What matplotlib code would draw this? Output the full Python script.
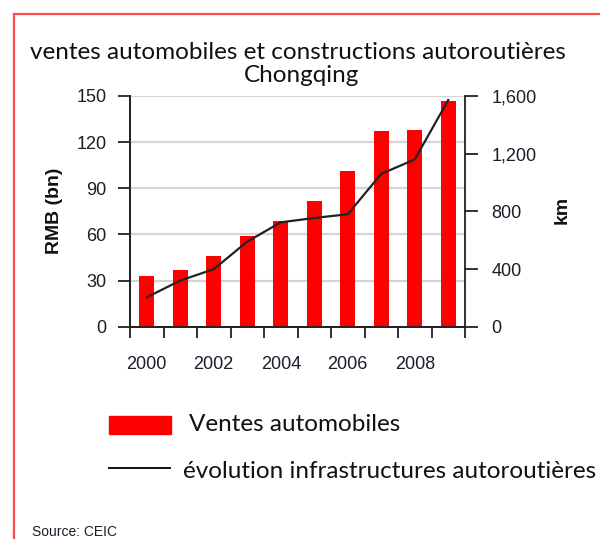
import matplotlib
matplotlib.use("Agg")
import matplotlib.pyplot as plt
import numpy as np
from matplotlib.patches import Rectangle
from matplotlib.lines import Line2D
from matplotlib.ticker import FuncFormatter

YEARS = [2000, 2001, 2002, 2003, 2004, 2005, 2006, 2007, 2008, 2009]
SALES_RMB_BN = [33, 37, 46, 59, 69, 82, 101, 127, 128, 147]
MOTORWAY_KM = [204, 320, 399, 590, 724, 754, 780, 1060, 1160, 1572]
YEAR_LABELS = ["2000", "2002", "2004", "2006", "2008"]

W, H = 600, 539
RED = "#ff0000"
TXT = "#1c1c2a"
TITLE_FONT = ["Lato", "DejaVu Sans"]
AX_FONT = ["Liberation Sans", "DejaVu Sans"]
BIG = 17.5


def px(x, y):
    return x / W, 1 - y / H


fig = plt.figure(figsize=(W / 100, H / 100), dpi=100)
x0, y1 = px(130, 96)
x1, y0 = px(465, 326.7)
ax = fig.add_axes([x0, y0, x1 - x0, y1 - y0])
ax2 = ax.twinx()

xs = np.arange(len(YEARS))
ax.bar(xs, SALES_RMB_BN, width=0.45, color=RED, zorder=3)
ax.set_ylim(0, 150)
ax.set_yticks([0, 30, 60, 90, 120, 150])
ax.set_xlim(-0.5, len(YEARS) - 0.5)
ax.set_xticks(np.arange(-0.5, len(YEARS), 1.0))
ax.set_xticklabels([])
ax.set_xticks([xs[YEARS.index(int(y))] for y in YEAR_LABELS], minor=True)
ax.set_xticklabels(YEAR_LABELS, minor=True)
ax.tick_params(axis="x", which="minor", length=0, pad=21)
ax.tick_params(axis="x", which="major", length=8, width=1.3, color="#222222")
ax.tick_params(axis="y", length=9, width=1.3, color="#222222", pad=8)
ax.yaxis.grid(True, color="#d4d4d4", lw=1.6, zorder=0)
ax.set_axisbelow(True)

ax2.plot(xs, MOTORWAY_KM, color="#222222", lw=1.6, zorder=4)
ax2.set_ylim(0, 1600)
ax2.set_yticks([0, 400, 800, 1200, 1600])
ax2.yaxis.set_major_formatter(FuncFormatter(lambda v, p: f"{int(v):,}"))
ax2.tick_params(axis="y", length=9, width=1.3, color="#222222", pad=10)

for a in (ax, ax2):
    a.spines["top"].set_visible(False)
    for s in ("left", "right", "bottom"):
        a.spines[s].set_color("#222222")
        a.spines[s].set_linewidth(1.3)
    for lab in a.get_xticklabels(which="both") + a.get_yticklabels():
        lab.set_fontfamily(AX_FONT)
        lab.set_fontsize(13)
        lab.set_color(TXT)
ax.spines["right"].set_visible(False)

# axis titles
fig.text(*px(55, 211), "RMB (bn)", rotation=90, ha="center", va="center",
         fontsize=14, fontweight="bold", family=AX_FONT, color="#111111")
fig.text(*px(562, 210), "km", rotation=90, ha="center", va="center",
         fontsize=14, fontweight="bold", family=AX_FONT, color="#111111")

# title
fig.text(*px(298, 59), "ventes automobiles et constructions autoroutières",
         ha="center", va="baseline", fontsize=BIG, family=TITLE_FONT, color="#111111")
fig.text(*px(302, 82), "Chongqing", ha="center", va="baseline",
         fontsize=BIG, family=TITLE_FONT, color="#111111")

# legend drawn by hand below the plot
lx0, ly0 = px(109, 434)
lx1, ly1 = px(171, 416)
fig.patches.append(Rectangle((lx0, ly0), lx1 - lx0, ly1 - ly0,
                             transform=fig.transFigure, color=RED))
fig.text(*px(189, 431), "Ventes automobiles", ha="left", va="baseline",
         fontsize=BIG, family=TITLE_FONT, color="#111111")
lxa, lya = px(109, 468)
lxb, _ = px(170, 468)
fig.lines.append(Line2D([lxa, lxb], [lya, lya], transform=fig.transFigure,
                        color="#111111", lw=1.4))
fig.text(*px(183, 478), "évolution infrastructures autoroutières", ha="left",
         va="baseline", fontsize=BIG, family=TITLE_FONT, color="#111111")

fig.text(*px(32, 532), "Source: CEIC", ha="left", va="center",
         fontsize=10, family=AX_FONT, color=TXT)

# red frame
bx, by = px(14, 700)
bx2, by2 = px(700, 14)
fig.patches.append(Rectangle((bx, by), bx2 - bx, by2 - by, transform=fig.transFigure,
                             fill=False, edgecolor="#ff4a4a", lw=1.6))

fig.savefig("out.png", dpi=100)
